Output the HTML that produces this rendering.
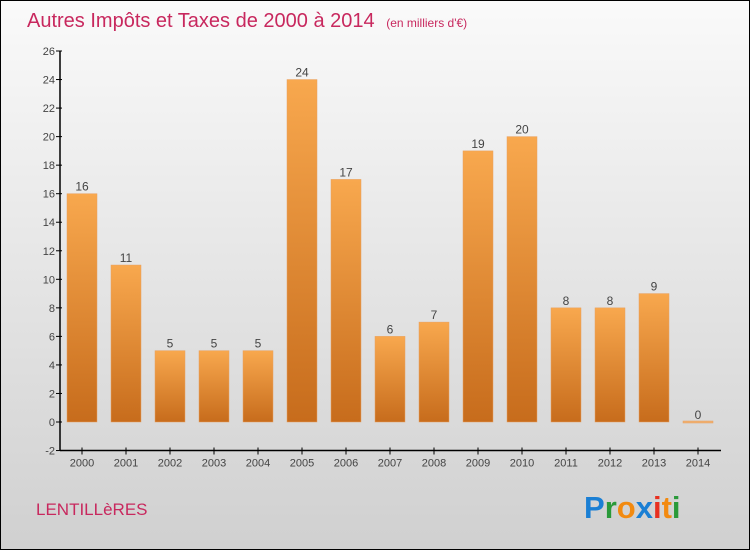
<!DOCTYPE html>
<html><head><meta charset="utf-8"><style>
body{margin:0;width:750px;height:550px;overflow:hidden;font-family:"Liberation Sans",sans-serif}
</style></head><body>
<svg width="750" height="550" xmlns="http://www.w3.org/2000/svg">
<defs>
<linearGradient id="bg" x1="0" y1="0" x2="0" y2="1"><stop offset="0" stop-color="#fafafa"/><stop offset="1" stop-color="#d0d0d0"/></linearGradient>
<linearGradient id="bar" x1="0" y1="0" x2="0" y2="1"><stop offset="0" stop-color="#f8a84e"/><stop offset="1" stop-color="#c76c1c"/></linearGradient>
</defs>
<rect x="0.5" y="0.5" width="749" height="549" fill="url(#bg)" stroke="#000"/>
<text x="27" y="27" font-size="20" fill="#c8285e">Autres Impôts et Taxes de 2000 à 2014 <tspan font-size="12" dx="6">(en milliers d'€)</tspan></text>
<g id="axes"></g>
<g id="bars"></g>
<text x="36" y="515" font-size="17" fill="#c8285e">LENTILLèRES</text>
<text x="584" y="518" font-size="31" font-weight="bold"><tspan fill="#1a7fd4">P</tspan><tspan fill="#2a9a3a">r</tspan><tspan fill="#f28a10">o</tspan><tspan fill="#1a7fd4">x</tspan><tspan fill="#e83020">i</tspan><tspan fill="#f28a10">t</tspan><tspan fill="#2a9a3a">i</tspan></text>
</svg>
<script>
const years=["2000","2001","2002","2003","2004","2005","2006","2007","2008","2009","2010","2011","2012","2013","2014"];
const values=[16,11,5,5,5,24,17,6,7,19,20,8,8,9,0];
const yTicks=[-2,0,2,4,6,8,10,12,14,16,18,20,22,24,26];
const NS="http://www.w3.org/2000/svg";
const y=v=>422-(v*(422-51)/26);
const x=i=>82+44*i;
function mk(t,a,p,txt){const e=document.createElementNS(NS,t);for(const k in a)e.setAttribute(k,a[k]);if(txt!==undefined)e.textContent=txt;p.appendChild(e);return e;}
const ax=document.getElementById('axes'),bs=document.getElementById('bars');
let l=mk('line',{x1:60,y1:y(26),x2:60,y2:y(-2),stroke:'#000','stroke-width':1.5},ax);


l=mk('line',{x1:60,y1:y(-2),x2:721,y2:y(-2),stroke:'#000','stroke-width':1.5},ax);


yTicks.forEach(v=>{
 mk('line',{x1:56,y1:y(v),x2:62,y2:y(v),stroke:'#000'},ax);
 const t=mk('text',{x:55,y:y(v)+4,'font-size':11,fill:'#444','text-anchor':'end'},ax,String(v));
 
 
});
years.forEach((yr,i)=>{
 mk('line',{x1:x(i),y1:y(-2)-3,x2:x(i),y2:y(-2)+4,stroke:'#000'},ax);
 const t=mk('text',{x:x(i),y:y(-2)+16,'font-size':11,fill:'#444','text-anchor':'middle'},ax,yr);
 
 
 const v=values[i];
 const top=y(Math.max(v,0)),h=Math.max(Math.abs(y(v)-y(0)),2);
 const r=mk('rect',{x:x(i)-15,y:v>0?top:y(0)-1,width:30,height:h,fill:v>0?'url(#bar)':'#f0b070',stroke:'#e8a060','stroke-width':0.5},bs);
 
 
 const lb=mk('text',{x:x(i),y:top-3,'font-size':12,fill:'#444','text-anchor':'middle'},bs,String(v));
 
 
});
</script>
</body></html>
